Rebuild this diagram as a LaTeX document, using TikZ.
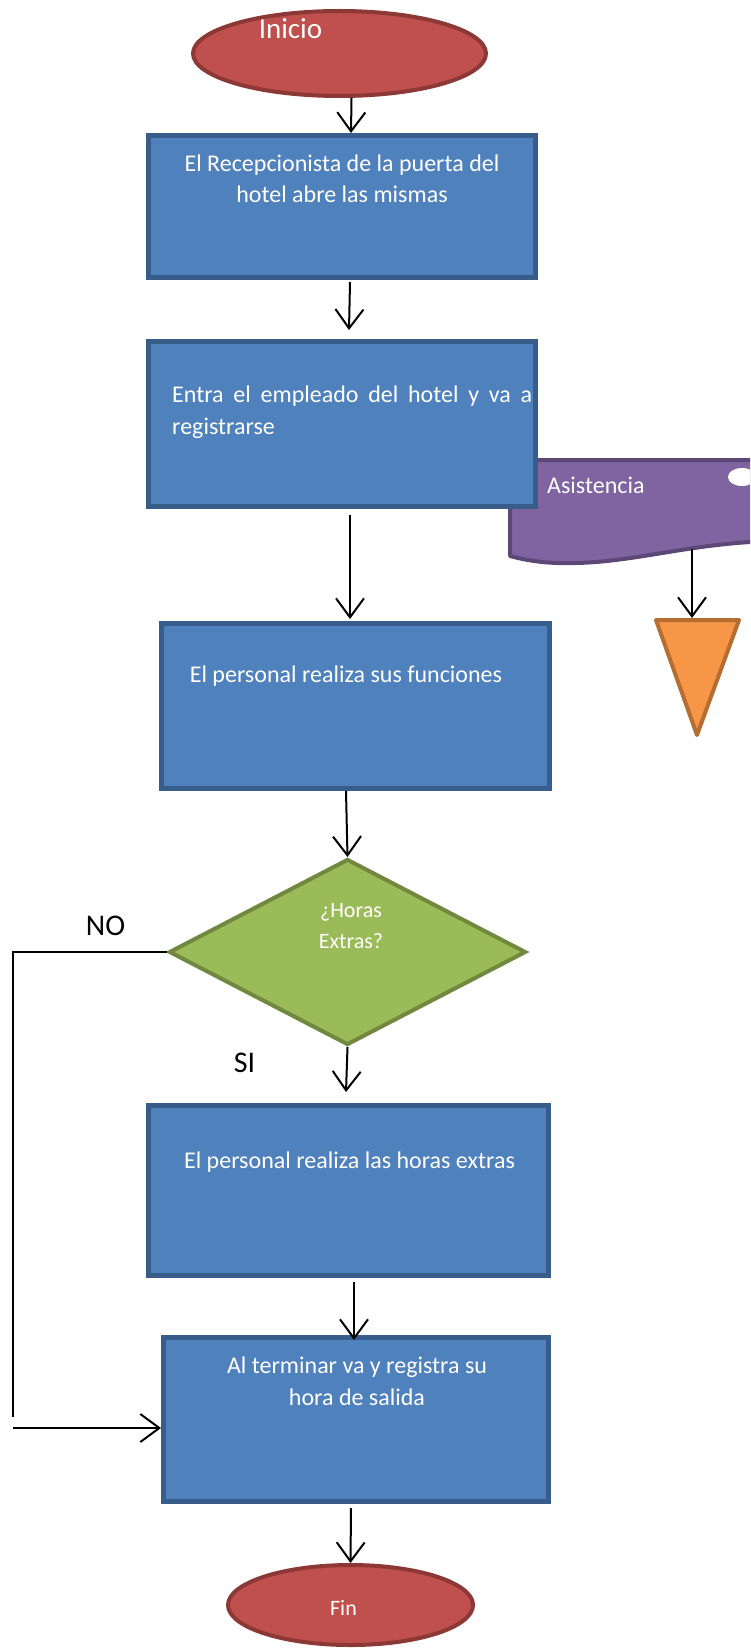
\documentclass[tikz,border=0pt]{standalone}
\usepackage{fontspec}
\setmainfont{Carlito}
\usetikzlibrary{arrows.meta,shapes.geometric}

\definecolor{boxfill}{HTML}{4F81BD}
\definecolor{boxline}{HTML}{385D8A}
\definecolor{termfill}{HTML}{C0504D}
\definecolor{termline}{HTML}{8C3836}
\definecolor{decfill}{HTML}{9BBB59}
\definecolor{decline}{HTML}{71893F}
\definecolor{docfill}{HTML}{8064A2}
\definecolor{docline}{HTML}{5C4776}
\definecolor{mergefill}{HTML}{F79646}
\definecolor{mergeline}{HTML}{B66D31}

\begin{document}
\begin{tikzpicture}[x=1pt,y=-1pt,
  process/.style={rectangle, draw=boxline, fill=boxfill, line width=5pt, inner sep=0pt},
  terminal/.style={ellipse, draw=termline, fill=termfill, line width=4pt, inner sep=0pt},
  decision/.style={diamond, draw=decline, fill=decfill, line width=4pt, inner sep=0pt},
  boxtext/.style={text=white, font=\fontsize{24}{32}\selectfont, inner sep=0pt},
  tag/.style={font=\fontsize{30}{36}\selectfont, inner sep=0pt, anchor=base},
  wire/.style={draw=black, line width=2pt},
  flow/.style={wire, -{Straight Barb[length=19pt,width=28pt]}}
]
\useasboundingbox (0,0) rectangle (750,1648);
\clip (0,0) rectangle (750,1648);

% start terminal and first process
\node[terminal, minimum width=293pt, minimum height=85pt] (inicio) at (339.5,53.5) {};
\node[process, minimum width=387pt, minimum height=142pt] (box1) at (342,206.5) {};

% attendance document shape, partly hidden behind the second process
\draw[draw=docline, fill=docfill, line width=4pt, line join=round]
  (510,460) -- (790,460) -- (790,541)
  .. controls (700,540) and (640,562) .. (575,563)
  .. controls (545,564) and (525,560) .. (510,556) -- cycle;
\fill[white] (742,477) ellipse [x radius=14pt, y radius=9pt];
\coordinate (asisfoot) at (692,549);

\node[process, minimum width=387pt, minimum height=165pt] (box2) at (342,424) {};
\node[process, minimum width=388pt, minimum height=165pt] (box3) at (355.5,706) {};

% merge triangle
\coordinate (tl) at (656,620);
\coordinate (tr) at (739,620);
\coordinate (tb) at (697,735);
\coordinate (mergetop) at (692,618);
\draw[draw=mergeline, fill=mergefill, line width=4pt, line join=round] (tl) -- (tr) -- (tb) -- cycle;

\node[decision, minimum width=357pt, minimum height=186pt] (dia) at (347.5,952) {};
\node[process, minimum width=400pt, minimum height=170pt] (box4) at (348.5,1190.5) {};
\node[process, minimum width=385pt, minimum height=164pt] (box5) at (356,1419.5) {};
\node[terminal, minimum width=245pt, minimum height=80pt] (fin) at (350.5,1605) {};

% texts (multi-line nodes are placed by the baseline of their last line)
\node[boxtext, font=\fontsize{29}{34}\selectfont, anchor=base] (iniciotxt) at (290.5,39) {Inicio};
\node[boxtext, align=center, anchor=base] (t1) at (342,203)
  {El Recepcionista de la puerta del\\hotel abre las mismas};
\node[boxtext, anchor=base west] (asistxt) at (547,493) {Asistencia};
\node[boxtext, align=left, anchor=base west] (t2) at (172,434)
  {\makebox[360pt][s]{Entra el empleado del hotel y va a}\\registrarse};
\node[boxtext, anchor=base] (t3) at (346,682) {El personal realiza sus funciones};
\node[boxtext, font=\fontsize{22}{31}\selectfont, align=center, anchor=base] (diatxt) at (351,948)
  {¿Horas\\Extras?};
\node[boxtext, anchor=base] (t4) at (349.5,1168) {El personal realiza las horas extras};
\node[boxtext, align=center, anchor=base] (t5) at (357,1405)
  {Al terminar va y registra su\\hora de salida};
\node[boxtext, font=\fontsize{22}{26}\selectfont, anchor=base] (fintxt) at (343.5,1615) {Fin};
\node[tag] (no) at (105.5,935) {NO};
\node[tag] (si) at (244.5,1072) {SI};

% connectors
\draw[flow] ([xshift=12pt]inicio.south) -- ([xshift=9pt]box1.north);
\draw[flow] ([xshift=8pt,yshift=-2pt]box1.south) -- ([xshift=7pt,yshift=9pt]box2.north);
\draw[flow] ([xshift=8pt,yshift=-6pt]box2.south) -- ([xshift=-5.5pt,yshift=2pt]box3.north);
\draw[flow] (asisfoot) -- (mergetop);
\draw[flow] ([xshift=-9.5pt]box3.south) -- (dia.north);
\draw[flow] (dia.south) -- ([xshift=-2.5pt,yshift=11pt]box4.north);
\draw[flow] ([xshift=5.5pt,yshift=-4pt]box4.south) -- ([xshift=-2pt,yshift=-5pt]box5.north);
\draw[flow] ([xshift=-5pt,yshift=-4pt]box5.south) -- (fin.north);
\coordinate (noend) at (13,1417);
\coordinate (nostart) at (13,1428);
\draw[wire] (dia.west) -| (noend);
\draw[flow] (nostart) -- (nostart -| box5.west);
\end{tikzpicture}
\end{document}
